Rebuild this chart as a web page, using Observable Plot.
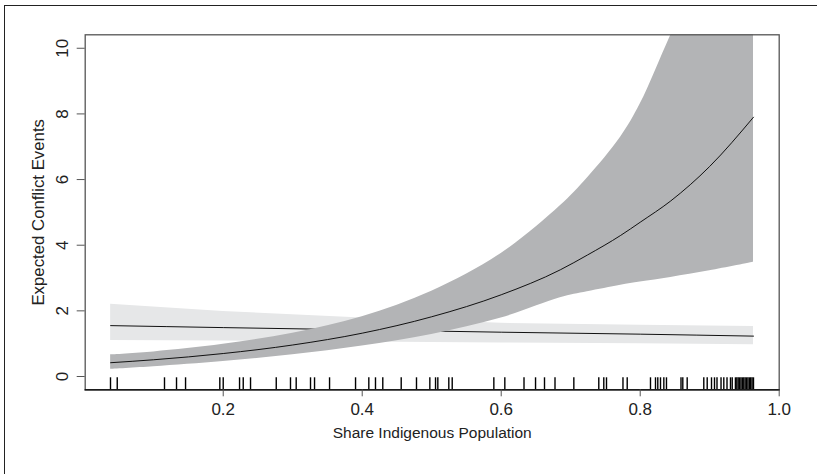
<!DOCTYPE html>
<html>
<head>
<meta charset="utf-8">
<script src="https://cdn.jsdelivr.net/npm/d3@7"></script>
<script src="https://cdn.jsdelivr.net/npm/@observablehq/plot@0.6"></script>
<style>
  html, body { margin: 0; padding: 0; background: #fff; }
  #wrap { position: relative; width: 817px; height: 474px; overflow: hidden; }
  #outer { position: absolute; left: 4px; top: 5px; width: 900px; height: 600px; border: 1.3px solid #222; pointer-events: none; }
</style>
</head>
<body>
<div id="wrap"><div id="outer"></div></div>
<script>
// Rising curve (dark band)
const xA     = [0.038, 0.1, 0.2, 0.3, 0.4, 0.5, 0.6, 0.685, 0.724, 0.772, 0.8, 0.844, 0.9, 0.963];
const meanA  = [0.42, 0.51, 0.70, 0.96, 1.32, 1.82, 2.49, 3.25, 3.70, 4.30, 4.70, 5.35, 6.40, 7.90];
const upperA = [0.66, 0.75, 0.98, 1.32, 1.82, 2.60, 3.75, 5.20, 6.05, 7.30, 8.30, 10.40, 13.0, 16.0];
const lowerA = [0.22, 0.30, 0.46, 0.66, 0.93, 1.28, 1.78, 2.40, 2.58, 2.78, 2.88, 3.02, 3.22, 3.48];

// Flat curve (light band)
const xB     = [0.038, 0.2, 0.4, 0.6, 0.8, 0.963];
const meanB  = [1.55, 1.49, 1.42, 1.35, 1.29, 1.23];
const upperB = [2.20, 1.98, 1.78, 1.62, 1.56, 1.52];
const lowerB = [1.10, 1.08, 1.05, 1.02, 1.00, 0.97];

// Rug of observed values
const rug = [0.0378, 0.0475, 0.1155, 0.1328, 0.1458, 0.1951, 0.2, 0.2235, 0.2288, 0.2393,
  0.2763, 0.2968, 0.305, 0.3256, 0.3314, 0.353, 0.3904, 0.4095, 0.4191, 0.4296,
  0.4561, 0.4781, 0.4973, 0.5055, 0.5088, 0.5246, 0.5295, 0.5894, 0.6052, 0.6328,
  0.6494, 0.6623, 0.6774, 0.7045, 0.7404, 0.7476, 0.7515, 0.7752, 0.7813, 0.8148,
  0.822, 0.8253, 0.8292, 0.834, 0.8378, 0.8587, 0.8613, 0.8676, 0.8915, 0.8964,
  0.9026, 0.9069, 0.9105, 0.9163, 0.9203, 0.9249, 0.9299, 0.9324, 0.937, 0.939,
  0.941, 0.943, 0.945, 0.947, 0.949, 0.951, 0.953, 0.955, 0.957, 0.959, 0.961, 0.963];

const xTicks = [0.2, 0.4, 0.6, 0.8, 1.0];
const yTicks = [0, 2, 4, 6, 8, 10];
const xLabel = "Share Indigenous Population";
const yLabel = "Expected Conflict Events";

const A = xA.map((x, i) => ({x, m: meanA[i], lo: lowerA[i], hi: upperA[i]}));
const B = xB.map((x, i) => ({x, m: meanB[i], lo: lowerB[i], hi: upperB[i]}));

const font = "Liberation Sans, Arial, Helvetica, sans-serif";

const chart = Plot.plot({
  width: 817,
  height: 474,
  marginLeft: 84.7,
  marginTop: 34.3,
  marginRight: 38.3,
  marginBottom: 84.7,
  style: {fontFamily: font, fontSize: "15px", color: "#222", background: "transparent"},
  x: {domain: [0.0014, 1.0]},
  y: {domain: [-0.405, 10.41]},
  marks: [
    Plot.areaY(B, {x: "x", y1: "lo", y2: "hi", fill: "#e6e7e8"}),
    Plot.lineY(B, {x: "x", y: "m", stroke: "#111", strokeWidth: 1, curve: "monotone-x"}),
    Plot.areaY(A, {x: "x", y1: "lo", y2: "hi", fill: "#b3b4b6", curve: "catmull-rom", clip: true}),
    Plot.lineY(A, {x: "x", y: "m", stroke: "#111", strokeWidth: 1, curve: "monotone-x", clip: true}),
    Plot.ruleX(rug, {x: d => d, insetTop: 343, stroke: "#000", strokeWidth: 1.4}),
    Plot.frame({stroke: "#555", strokeWidth: 1.3}),
    Plot.frame({anchor: "bottom", stroke: "#000", strokeWidth: 1.3}),
    Plot.axisX({ticks: xTicks, tickSize: 7, text: null, label: null, stroke: "#555"}),
    Plot.text(xTicks, {x: d => d, text: d => d3.format(".1f")(d), frameAnchor: "bottom", dy: 20,
      lineAnchor: "middle", fontSize: 17, fill: "#222"}),
    Plot.axisY({ticks: yTicks, tickSize: 8, text: null, label: null, stroke: "#555"}),
    Plot.text(yTicks, {y: d => d, text: d => String(d), frameAnchor: "left", dx: -23,
      rotate: -90, textAnchor: "middle", lineAnchor: "middle", fontSize: 17, fill: "#222"}),
    Plot.text([xLabel], {text: d => d, frameAnchor: "bottom", dy: 48, fontSize: 15.5, fill: "#222"}),
    Plot.text([yLabel], {text: d => d, frameAnchor: "left", dx: -47, rotate: -90,
      textAnchor: "middle", lineAnchor: "middle", fontSize: 16.8, fill: "#222"})
  ]
});
document.getElementById("wrap").appendChild(chart);
</script>
</body>
</html>
